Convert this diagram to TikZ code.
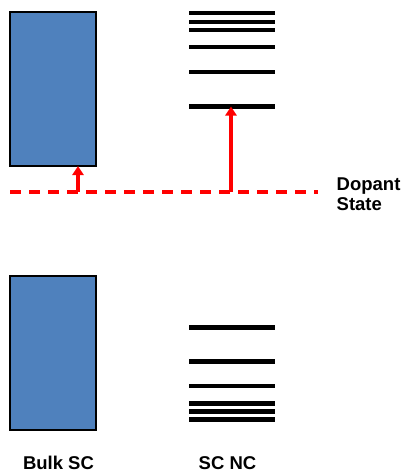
\documentclass[tikz,border=0pt]{standalone}
\usepackage{fontspec}
\setmainfont{Liberation Sans}
\usetikzlibrary{arrows.meta}
\definecolor{bandblue}{HTML}{4F81BD}
\begin{document}
\begin{tikzpicture}[x=1pt,y=-1pt,
  band/.style={draw=black,line width=1.3pt,fill=bandblue,minimum width=86pt,minimum height=154pt,inner sep=0pt,outer sep=0pt},
  level/.style={line width=4.5pt,black},
  dopant/.style={red,line width=3.8pt,dash pattern=on 11pt off 8pt},
  excite/.style={red,line width=3.5pt,-{Triangle[length=9pt,width=11pt]}},
  lbl/.style={font=\fontsize{18.5}{20}\selectfont\bfseries,inner sep=0pt,align=left}]
\useasboundingbox (0,0) rectangle (406,472);
% bulk bands
\node[band] (cb) at (53,89) {};
\node[band] (vb) at (53,353) {};
\coordinate (cbbot) at (78,166);
% NC levels
\foreach \y in {13,22,30,47,72,106.5} \draw[level] (189,\y) -- (275,\y);
\foreach \y in {327.5,361.5,386,403.5,411.5,419.5} \draw[level] (189,\y) -- (275,\y);
\coordinate (lumo) at (231,106.5);
% dopant line
\coordinate (dl) at (10,192);
\coordinate (dr) at (318,192);
\draw[dopant] (dl) -- (dr);
\coordinate (s1) at (78,192);
\coordinate (s2) at (231,192);
\draw[excite] (s1) -- (cbbot);
\draw[excite] (s2) -- (lumo);
\node[lbl,anchor=base west] (dop) at (336.5,190) {Dopant};
\node[lbl,anchor=base west] (st) at (336.5,210) {State};
\node[lbl,anchor=base] (bulk) at (58.5,469) {Bulk SC};
\node[lbl,anchor=base] (nc) at (227.5,469) {SC NC};
\end{tikzpicture}
\end{document}
